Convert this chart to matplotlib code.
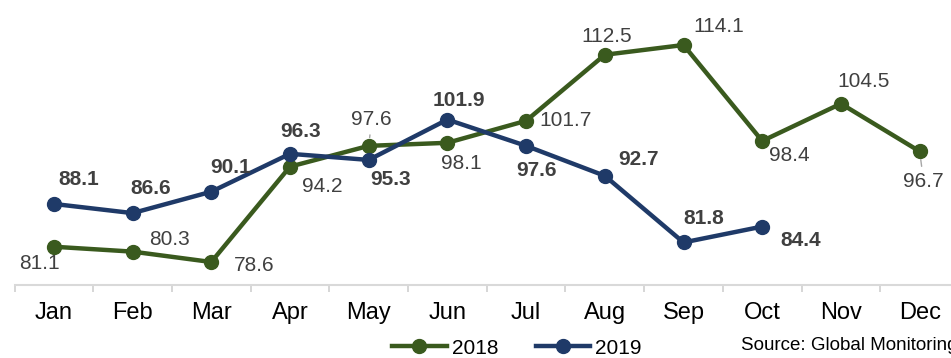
import matplotlib
matplotlib.use("Agg")
import matplotlib.pyplot as plt
from matplotlib.ticker import FixedLocator

plt.rcParams['font.family'] = ['Liberation Sans', 'DejaVu Sans']

# Aylık endeks değerleri
aylar = ['Jan', 'Feb', 'Mar', 'Apr', 'May', 'Jun', 'Jul', 'Aug', 'Sep', 'Oct', 'Nov', 'Dec']
deger_2018 = [81.1, 80.3, 78.6, 94.2, 97.6, 98.1, 101.7, 112.5, 114.1, 98.4, 104.5, 96.7]
deger_2019 = [88.1, 86.6, 90.1, 96.3, 95.3, 101.9, 97.6, 92.7, 81.8, 84.4]

# Etiket kaydırmaları (piksel, sağa / aşağı)
kayma_2018 = [(-14, 17), (37, -12), (43, 3), (32, 20), (3, -26), (14, 21),
              (39, 0), (2, -18), (35, -18), (27, 15), (23, -22), (4, 30)]
kayma_2019 = [(25, -24), (18, -25), (19, -24), (11, -22), (22, 20), (11, -19),
              (10, 25), (34, -16), (20, -24), (38, 14)]
cizgili = {4, 11}  # 2018 serisinde kılavuz çizgili etiketler

yesil = '#3A5A1E'
lacivert = '#1F3A68'
yazi = '#404040'

fig = plt.figure(figsize=(9.51, 3.58), dpi=100)
ax = fig.add_axes([14.5 / 951, 73 / 358, 944.5 / 951, 285 / 358])

x = list(range(len(aylar)))
ax.plot(x, deger_2018, color=yesil, lw=3.2, marker='o', ms=10, label='2018', zorder=3)
ax.plot(x[:len(deger_2019)], deger_2019, color=lacivert, lw=3.2, marker='o', ms=10,
        label='2019', zorder=4)

for i, (v, (dx, dy)) in enumerate(zip(deger_2018, kayma_2018)):
    ok = dict(arrowstyle='-', color='#A6A6A6', lw=1, shrinkA=2, shrinkB=6) if i in cizgili else None
    ax.annotate(f'{v:.1f}', xy=(i, v), xytext=(dx, -dy), textcoords='offset pixels',
                ha='center', va='center', fontsize=15, color=yazi,
                arrowprops=ok, annotation_clip=False, zorder=5)

for i, (v, (dx, dy)) in enumerate(zip(deger_2019, kayma_2019)):
    ax.annotate(f'{v:.1f}', xy=(i, v), xytext=(dx, -dy), textcoords='offset pixels',
                ha='center', va='center', fontsize=15, color=yazi, fontweight='bold',
                annotation_clip=False, zorder=5)

ax.set_xlim(-0.5, 11.5)
ax.set_ylim(74.84, 121.46)

# Ay adları ortada, ayırıcı çentikler aralarda
ax.set_xticks(x)
ax.set_xticklabels(aylar, fontsize=17, color='#000000')
ax.xaxis.set_minor_locator(FixedLocator([i - 0.5 for i in range(13)]))
ax.tick_params(axis='x', which='major', length=0, pad=12)
ax.tick_params(axis='x', which='minor', length=5, width=1.2, color='#D0D0D0')
ax.set_yticks([])

for s in ['top', 'right', 'left']:
    ax.spines[s].set_visible(False)
ax.spines['bottom'].set_color('#D9D9D9')
ax.spines['bottom'].set_linewidth(1.5)

fig.legend(loc='center', bbox_to_anchor=(517 / 951, 1 - 348 / 358), ncol=2, frameon=False,
           fontsize=15, handlelength=2.6, handletextpad=0.25, columnspacing=1.8,
           borderpad=0, borderaxespad=0)

fig.text(741 / 951, 1 - 345 / 358, 'Source: Global Monitoring', fontsize=13.5,
         ha='left', va='center', color='#000000')

fig.savefig('out.png', dpi=100)
